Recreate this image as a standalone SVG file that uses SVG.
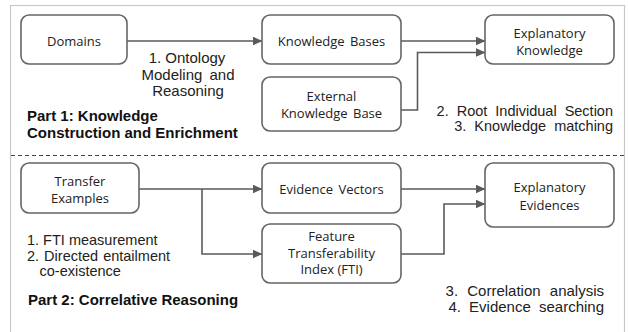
<svg xmlns="http://www.w3.org/2000/svg" width="628" height="332" viewBox="0 0 628 332">
<defs>
<marker id="ah" markerWidth="10" markerHeight="9" refX="9.5" refY="4.5" orient="auto" markerUnits="userSpaceOnUse">
<path d="M0,0 L10,4.5 L0,9 Z" fill="#5a5a5a"/>
</marker>
<style>
.node rect{fill:#fff;stroke:#666;stroke-width:1.6}
.node text{font-family:"Open Sans","Liberation Sans",sans-serif;font-size:13px;fill:#222;text-anchor:middle}
.lbl{font-family:"Liberation Sans",Arial,sans-serif;font-size:14.5px;fill:#222}
.big{font-size:15px}
.bold{font-family:"Liberation Sans",Arial,sans-serif;font-size:15px;font-weight:bold;fill:#111}
.edge{fill:none;stroke:#5a5a5a;stroke-width:1.6;marker-end:url(#ah)}
</style>
</defs>
<rect x="0" y="0" width="628" height="332" fill="#fff"/>
<rect x="10.5" y="5.5" width="614" height="340" fill="none" stroke="#c8c8c8" stroke-width="1.2"/>
<line x1="11" y1="155.5" x2="624" y2="155.5" stroke="#3a3a8c" stroke-width="1.2" stroke-dasharray="4,3"/>

<g id="edges">
<path class="edge" d="M127,41 H262"/>
<path class="edge" d="M401,41 H485"/>
<path class="edge" d="M401,110 H417.5 V52.5 H485"/>
<path class="edge" d="M139,189 H262"/>
<path class="edge" d="M202,189 V254 H262"/>
<path class="edge" d="M401,189 H485"/>
<path class="edge" d="M401,254 H444 V204 H485"/>
</g>

<g id="domains" class="node"><rect x="21" y="15" width="106" height="49" rx="8"/><text x="74" y="46">Domains</text></g>
<g id="knowledge-bases" class="node"><rect x="262" y="15" width="139" height="49" rx="8"/><text x="331.5" y="46" word-spacing="2">Knowledge Bases</text></g>
<g id="external-kb" class="node"><rect x="262" y="77" width="139" height="54" rx="8"/><text x="331.5" y="101">External</text><text x="331.5" y="117.5" word-spacing="2">Knowledge Base</text></g>
<g id="explanatory-knowledge" class="node"><rect x="485" y="15" width="129" height="49" rx="8"/><text x="549.5" y="37.5">Explanatory</text><text x="549.5" y="54.5">Knowledge</text></g>

<g id="transfer-examples" class="node"><rect x="21" y="163" width="118" height="50" rx="8"/><text x="80" y="186">Transfer</text><text x="80" y="202.5">Examples</text></g>
<g id="evidence-vectors" class="node"><rect x="262" y="163" width="139" height="50" rx="8"/><text x="331.5" y="193.5" word-spacing="2">Evidence Vectors</text></g>
<g id="fti" class="node"><rect x="262" y="224" width="139" height="59" rx="8"/><text x="331.5" y="241">Feature</text><text x="331.5" y="257.5">Transferability</text><text x="331.5" y="274">Index (FTI)</text></g>
<g id="explanatory-evidences" class="node"><rect x="485" y="163" width="129" height="64" rx="8"/><text x="549.5" y="192">Explanatory</text><text x="549.5" y="210">Evidences</text></g>

<g id="labels">
<text class="lbl big" text-anchor="middle" x="187" y="63">1. Ontology</text>
<text class="lbl big" text-anchor="middle" x="188" y="79.5" word-spacing="3">Modeling and</text>
<text class="lbl big" text-anchor="middle" x="188" y="96">Reasoning</text>
<text class="bold" x="27" y="121">Part 1: Knowledge</text>
<text class="bold" x="27" y="137.5">Construction and Enrichment</text>
<text class="lbl" text-anchor="end" x="613" y="115.5" word-spacing="4">2. Root Individual Section</text>
<text class="lbl" text-anchor="end" x="613" y="131" word-spacing="4">3. Knowledge matching</text>
<text class="lbl" x="27" y="245">1. FTI measurement</text>
<text class="lbl" x="27" y="260.5" word-spacing="1">2. Directed entailment</text>
<text class="lbl" x="39.5" y="276">co-existence</text>
<text class="bold" x="28" y="305">Part 2: Correlative Reasoning</text>
<text class="lbl big" text-anchor="end" x="604" y="295.5" word-spacing="5">3. Correlation analysis</text>
<text class="lbl big" text-anchor="end" x="604" y="312" word-spacing="4">4. Evidence searching</text>
</g>
</svg>
